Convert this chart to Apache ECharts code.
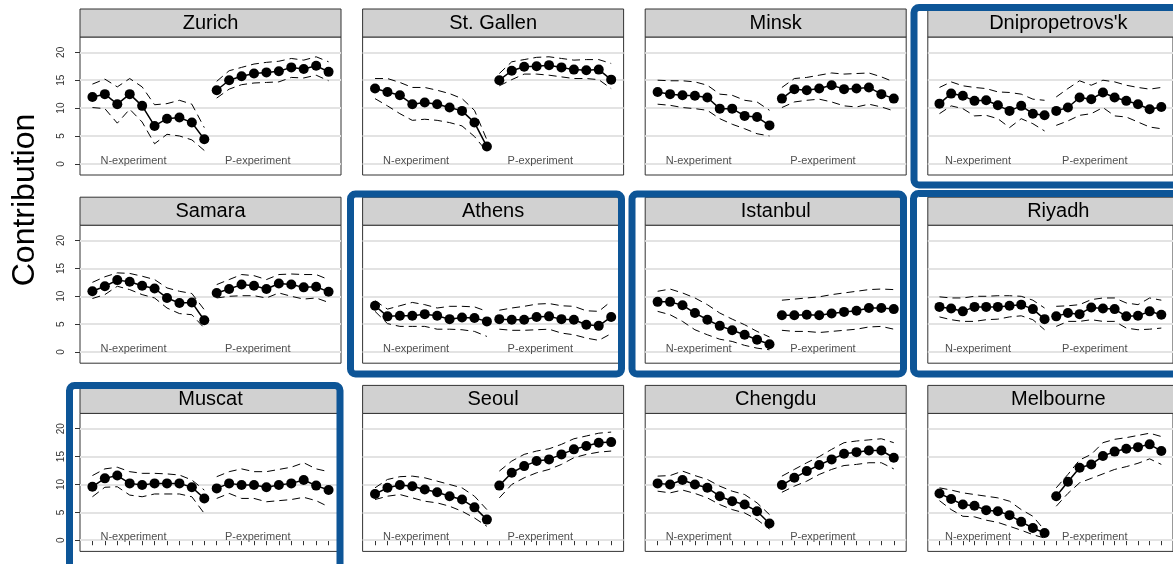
<!DOCTYPE html>
<html><head><meta charset="utf-8">
<script src="https://cdn.jsdelivr.net/npm/echarts@6/dist/echarts.min.js"></script>
<style>html,body{margin:0;padding:0;background:#fff}#c{width:1173px;height:564px}</style>
</head><body><div id="c"></div><script>
// ---------- data ----------
const cities = ["Zurich","St. Gallen","Minsk","Dnipropetrovs'k","Samara","Athens","Istanbul","Riyadh","Muscat","Seoul","Chengdu","Melbourne"];
const highlighted = ["Dnipropetrovs'k","Athens","Istanbul","Riyadh","Muscat"];
const segmentLabels = ["N-experiment","P-experiment"];
const yTicks = [0,5,10,15,20];
const xTicks = [1,2,3,4,5,6,7,8,9,10,11,12,13,14,15,16,17,18,19,20];

// each array: periods 1-10 = N-experiment, 11-20 = P-experiment
const meanZurich  = [12.0,12.5,10.7,12.5,10.4,6.8,8.1,8.3,7.4,4.4, 13.2,15.0,15.7,16.2,16.4,16.6,17.3,17.0,17.6,16.5];
const upperZurich = [14.3,15.2,13.8,15.3,13.8,10.6,10.8,11.4,10.7,6.5, 14.8,16.7,17.3,17.9,18.2,18.4,18.9,18.6,19.2,18.3];
const lowerZurich = [10.1,9.9,7.3,9.8,7.5,3.6,5.3,5.0,4.3,2.4, 11.8,13.4,14.2,14.5,14.6,14.7,15.5,15.4,15.9,14.9];

const meanStGallen  = [13.5,12.9,12.3,10.7,11.0,10.7,10.1,9.5,7.4,3.1, 15.0,16.7,17.4,17.5,17.7,17.3,16.9,16.8,16.9,15.1];
const upperStGallen = [15.3,15.3,14.6,13.7,13.7,13.2,12.6,11.7,9.6,4.3, 16.2,18.3,18.7,19.1,19.2,18.9,18.6,18.7,18.7,18.0];
const lowerStGallen = [11.7,10.4,9.0,7.8,8.0,7.8,7.4,6.8,4.9,2.2, 14.0,15.1,16.1,16.1,15.9,15.6,15.3,15.3,15.1,13.5];

const meanMinsk  = [12.9,12.5,12.3,12.2,11.9,9.9,9.9,8.6,8.4,6.9, 11.7,13.4,13.2,13.5,14.1,13.4,13.5,13.7,12.5,11.7];
const upperMinsk = [15.0,14.9,14.9,14.7,14.1,12.5,12.3,11.4,11.1,9.6, 13.7,15.3,15.5,15.9,16.3,16.1,16.2,16.3,15.6,14.7];
const lowerMinsk = [10.7,10.5,10.1,9.9,9.6,8.1,7.1,6.3,5.4,5.0, 10.1,11.1,11.4,11.6,11.1,10.4,10.2,10.7,10.2,9.5];

const meanDnipro  = [10.8,12.6,12.2,11.3,11.4,10.5,9.5,10.4,9.0,8.7, 9.5,10.1,11.9,11.6,12.8,11.9,11.3,10.7,9.8,10.2];
const upperDnipro = [13.7,14.7,14.0,13.7,13.5,12.9,12.8,12.5,11.6,11.4, 12.0,13.5,14.9,14.1,15.0,14.7,14.1,13.7,13.4,13.7];
const lowerDnipro = [9.0,10.4,9.9,8.6,8.7,8.1,6.5,8.1,7.2,5.9, 6.9,7.7,8.7,9.0,10.1,8.6,8.4,7.5,6.6,6.3];

const meanSamara  = [10.9,11.8,12.9,12.6,11.9,11.4,9.7,8.8,8.9,5.7, 10.6,11.3,12.1,11.9,11.3,12.3,12.1,11.6,11.7,10.8];
const upperSamara = [12.5,13.5,14.2,14.1,13.6,13.0,11.5,10.9,10.5,7.6, 12.1,13.0,13.9,13.7,13.0,13.9,14.0,13.9,13.9,13.0];
const lowerSamara = [9.6,10.3,11.8,11.2,10.3,9.7,7.9,6.9,6.7,4.3, 9.7,10.0,10.1,10.1,9.7,10.6,10.0,9.5,9.7,8.9];

const meanAthens  = [8.3,6.4,6.5,6.5,6.8,6.5,5.9,6.2,6.1,5.5, 5.9,5.8,5.8,6.3,6.4,5.9,5.8,4.9,4.7,6.3];
const upperAthens = [9.2,7.7,8.3,8.9,8.5,7.9,8.2,8.2,8.1,7.3, 7.5,7.9,8.2,8.6,8.7,8.3,8.2,7.4,7.3,9.1];
const lowerAthens = [7.3,5.1,4.6,4.6,4.6,4.1,4.1,4.0,3.7,2.8, 4.1,3.9,3.9,4.0,4.1,3.4,3.1,2.5,2.1,3.3];

const meanIstanbul  = [9.0,9.0,8.4,7.0,5.8,4.7,3.9,3.1,2.2,1.4, 6.6,6.6,6.7,6.6,6.9,7.2,7.4,7.9,7.9,7.7];
const upperIstanbul = [10.9,11.3,10.6,9.7,8.5,7.0,5.9,4.9,3.7,2.7, 9.3,9.5,9.7,9.9,10.3,10.6,10.9,11.2,11.3,11.2];
const lowerIstanbul = [7.3,6.7,5.5,4.0,3.1,2.3,1.9,1.2,0.7,0.4, 3.9,3.7,3.7,3.5,3.7,3.9,4.1,4.5,4.6,4.1];

const meanRiyadh  = [8.1,7.8,7.3,8.1,8.1,8.1,8.3,8.5,7.7,5.9, 6.4,7.0,6.8,8.0,7.8,7.7,6.4,6.5,7.3,6.7];
const upperRiyadh = [9.9,9.7,9.7,10.0,10.0,10.1,10.1,10.0,9.3,7.9, 8.2,8.3,8.5,9.4,9.7,9.7,8.8,8.5,9.7,9.3];
const lowerRiyadh = [6.3,5.8,5.5,5.5,5.8,5.9,6.3,6.5,5.8,4.0, 4.6,5.5,5.5,5.8,5.5,5.5,4.3,4.0,4.1,4.3];

const meanMuscat  = [9.6,11.1,11.6,10.2,9.9,10.2,10.2,10.2,9.5,7.5, 9.3,10.2,9.9,9.9,9.5,9.9,10.2,10.8,9.8,9.0];
const upperMuscat = [11.6,12.8,13.1,12.3,12.0,12.0,11.9,11.7,10.8,9.0, 11.4,12.3,12.8,12.3,12.3,12.7,13.1,13.9,12.8,12.3];
const lowerMuscat = [7.8,9.5,9.6,8.1,7.8,8.3,8.3,8.3,7.8,4.8, 7.5,8.4,7.5,7.5,6.9,7.1,7.3,7.7,7.1,6.0];

const meanSeoul  = [8.3,9.4,9.9,9.7,9.1,8.6,7.9,7.3,5.9,3.7, 9.8,12.1,13.3,14.2,14.5,15.4,16.3,16.9,17.5,17.6];
const upperSeoul = [9.4,10.9,11.4,11.5,11.2,10.6,10.0,9.4,7.9,5.5, 12.4,14.2,15.4,16.0,16.4,17.2,18.2,18.7,19.2,19.4];
const lowerSeoul = [7.3,7.9,8.2,7.6,7.0,6.7,6.1,5.2,4.0,2.5, 7.6,10.0,11.2,12.1,12.7,13.6,14.8,15.4,15.8,16.0];

const meanChengdu  = [10.2,10.0,10.8,10.0,9.4,7.9,7.0,6.4,5.2,3.0, 9.9,11.2,12.4,13.5,14.5,15.5,15.8,16.1,16.1,14.8];
const upperChengdu = [11.5,11.6,12.4,11.6,10.9,9.7,8.8,8.2,6.7,4.6, 11.5,12.7,13.9,15.0,16.3,17.5,17.8,18.0,18.2,17.5];
const lowerChengdu = [8.8,8.5,9.0,8.4,7.6,6.4,5.5,4.9,3.7,2.0, 8.6,9.7,10.6,11.8,12.7,13.4,13.6,13.9,13.9,12.8];

const meanMelbourne  = [8.4,7.4,6.4,6.2,5.4,5.2,4.5,3.3,2.2,1.3, 7.9,10.5,13.0,13.6,15.1,15.9,16.4,16.7,17.2,16.0];
const upperMelbourne = [9.4,9.0,8.5,8.2,7.9,7.6,7.0,5.5,4.3,1.8, 9.4,11.8,14.4,15.4,17.5,18.1,18.4,18.8,19.2,18.6];
const lowerMelbourne = [7.1,5.5,4.3,4.2,3.6,3.2,2.5,1.8,1.0,0.4, 6.1,8.4,10.3,11.1,11.9,12.7,13.2,13.8,14.6,13.6];

const seriesByCity = {
  "Zurich": [meanZurich, upperZurich, lowerZurich],
  "St. Gallen": [meanStGallen, upperStGallen, lowerStGallen],
  "Minsk": [meanMinsk, upperMinsk, lowerMinsk],
  "Dnipropetrovs'k": [meanDnipro, upperDnipro, lowerDnipro],
  "Samara": [meanSamara, upperSamara, lowerSamara],
  "Athens": [meanAthens, upperAthens, lowerAthens],
  "Istanbul": [meanIstanbul, upperIstanbul, lowerIstanbul],
  "Riyadh": [meanRiyadh, upperRiyadh, lowerRiyadh],
  "Muscat": [meanMuscat, upperMuscat, lowerMuscat],
  "Seoul": [meanSeoul, upperSeoul, lowerSeoul],
  "Chengdu": [meanChengdu, upperChengdu, lowerChengdu],
  "Melbourne": [meanMelbourne, upperMelbourne, lowerMelbourne]
};

// ---------- layout ----------
const FONT = "Liberation Sans, Arial, Helvetica, sans-serif";
const colLeft = [80, 362.6, 645.2, 927.8];
const rowTop = [37, 225.2, 413.4];
const plotW = 261, plotH = 138, stripH = 28;
const Y_MIN = -2, Y_MAX = 22.75;
const labelPos = [[4.3, 0.6], [14.3, 0.6]];
const boxes = { // outline rectangles (centre of stroke)
  "Dnipropetrovs'k": [914, 7.5, 280, 177.5],
  "Athens": [350.5, 194, 271, 180],
  "Istanbul": [632, 194, 271.5, 180],
  "Riyadh": [913.5, 193.5, 280, 180.5],
  "Muscat": [69.5, 385.5, 270.5, 200]
};

const grids = [], xAxes = [], yAxes = [], series = [], graphics = [];

cities.forEach((city, i) => {
  const r = Math.floor(i / 4), c = i % 4;
  const left = colLeft[c], top = rowTop[r];
  const bottomRow = r === 2, leftCol = c === 0;
  grids.push({left: left, top: top, width: plotW, height: plotH, show: true,
    borderColor: '#333', borderWidth: 1, backgroundColor: 'transparent'});
  xAxes.push({type: 'value', gridIndex: i, min: 0, max: 21,
    axisLine: {show: false},
    axisTick: {show: bottomRow, customValues: xTicks, length: 5, lineStyle: {color: '#333', width: 1}},
    axisLabel: {show: false}, splitLine: {show: false}});
  yAxes.push({type: 'value', gridIndex: i, min: Y_MIN, max: Y_MAX,
    axisLine: {show: false},
    axisTick: {show: leftCol, customValues: yTicks, length: 5, lineStyle: {color: '#333', width: 1}},
    axisLabel: {show: leftCol, customValues: yTicks, rotate: 90, fontSize: 10, color: '#333', margin: 14, fontFamily: FONT},
    splitLine: {show: false}});

  // gridlines
  series.push({type: 'line', xAxisIndex: i, yAxisIndex: i, data: [], z: 1, silent: true,
    markLine: {silent: true, symbol: 'none', label: {show: false}, animation: false, z: 1,
      lineStyle: {color: '#e3e3e3', width: 2, type: 'solid'},
      data: yTicks.map(v => ({yAxis: v}))}});

  const [mean, upper, lower] = seriesByCity[city];
  [[0, 10], [10, 20]].forEach(([a, b]) => {
    const pts = arr => xTicks.slice(a, b).map((x, k) => [x, arr[a + k]]);
    [upper, lower].forEach(arr => {
      series.push({type: 'line', xAxisIndex: i, yAxisIndex: i, data: pts(arr), z: 2,
        symbol: 'none', silent: true, animation: false,
        lineStyle: {color: '#000', width: 1, type: [8, 5]}});
    });
    series.push({type: 'line', xAxisIndex: i, yAxisIndex: i, data: pts(mean), z: 3,
      symbol: 'circle', symbolSize: 10, showSymbol: true, silent: true, animation: false,
      itemStyle: {color: '#000'}, lineStyle: {color: '#000', width: 1.5}});
  });

  series.push({type: 'scatter', xAxisIndex: i, yAxisIndex: i, z: 4, silent: true, animation: false,
    symbolSize: 1, itemStyle: {color: 'transparent'},
    data: segmentLabels.map((t, k) => [labelPos[k][0], labelPos[k][1], t]),
    label: {show: true, position: 'inside', formatter: p => p.value[2], fontSize: 11, color: '#222', fontFamily: FONT}});

  // strip
  graphics.push({type: 'rect', shape: {x: left, y: top - stripH, width: plotW, height: stripH},
    style: {fill: '#d1d1d1', stroke: '#333', lineWidth: 1}, z: 10});
  graphics.push({type: 'text', x: left + plotW / 2, y: top - stripH / 2,
    style: {text: city, fontSize: 20, fontFamily: FONT, fill: '#000', align: 'center', verticalAlign: 'middle'}, z: 11});

  if (highlighted.includes(city)) {
    const bx = boxes[city];
    graphics.push({type: 'rect', shape: {x: bx[0], y: bx[1], width: bx[2], height: bx[3], r: 5},
      style: {fill: 'none', stroke: '#0d5597', lineWidth: 7}, z: 50});
  }
});

graphics.push({type: 'text', x: 25, y: 200, rotation: Math.PI / 2,
  style: {text: 'Contribution', fontSize: 32, fontFamily: FONT, fill: '#000', align: 'center', verticalAlign: 'middle'}, z: 20});

const chart = echarts.init(document.getElementById('c'), null, {renderer: 'canvas'});
chart.setOption({animation: false, grid: grids, xAxis: xAxes, yAxis: yAxes, series: series, graphic: graphics});
</script></body></html>
